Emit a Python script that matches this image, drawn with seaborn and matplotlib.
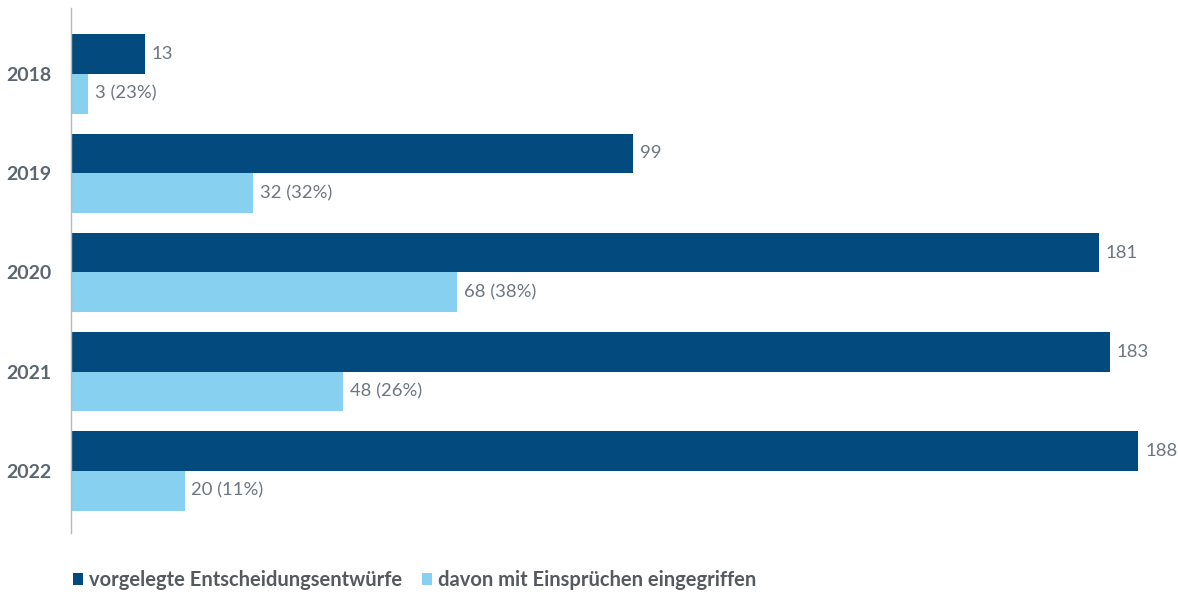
import matplotlib
matplotlib.use("Agg")
import matplotlib.pyplot as plt
import seaborn as sns
import pandas as pd
from matplotlib.patches import Patch

years = ["2018", "2019", "2020", "2021", "2022"]
submitted = [13, 99, 181, 183, 188]
objected = [3, 32, 68, 48, 20]
objected_pct = [23, 32, 38, 26, 11]
series_names = ["vorgelegte Entscheidungsentwürfe", "davon mit Einsprüchen eingegriffen"]
colors = ["#034b7f", "#87d0f0"]

df = pd.DataFrame({
    "year": years * 2,
    "value": submitted + objected,
    "series": [series_names[0]] * len(years) + [series_names[1]] * len(years),
})

sns.set_theme(style="white")
plt.rcParams["font.family"] = ["Lato", "DejaVu Sans"]

fig = plt.figure(figsize=(11.78, 5.95), dpi=100)
ax = fig.add_axes([71 / 1178, 1 - 533 / 595, 1 - 71 / 1178, 525 / 595])

sns.barplot(data=df, x="value", y="year", hue="series", orient="h",
            palette=colors, width=0.8, saturation=1, linewidth=0,
            legend=False, ax=ax)

ax.set_xlim(0, 195)
ax.set_ylim(4.625, -0.665)

label_color = "#6b7680"
labels_sets = [
    [str(v) for v in submitted],
    [f"{v} ({p}%)" for v, p in zip(objected, objected_pct)],
]
for cont, labs in zip(ax.containers, labels_sets):
    ax.bar_label(cont, labels=labs, padding=5, fontsize=13.3, color=label_color)

for s in ["top", "right", "bottom"]:
    ax.spines[s].set_visible(False)
ax.spines["left"].set_color("#b8b8b8")
ax.spines["left"].set_linewidth(1)
ax.set_xticks([])
ax.set_xlabel("")
ax.set_ylabel("")
ax.tick_params(axis="y", length=0, pad=14)
for t in ax.get_yticklabels():
    t.set_fontweight("bold")
    t.set_fontsize(14)
    t.set_color("#5b6670")

handles = [Patch(facecolor=c, edgecolor="none") for c in colors]
fig.legend(handles, series_names, loc="center left",
           bbox_to_anchor=(73 / 1178, 1 - 580 / 595), ncol=2, frameon=False,
           borderpad=0, borderaxespad=0,
           handlelength=0.5, handleheight=0.5, handletextpad=0.3, columnspacing=1.0,
           prop={"weight": "bold", "size": 14.5}, labelcolor="#555a5f")

fig.savefig("out.png", dpi=100)
